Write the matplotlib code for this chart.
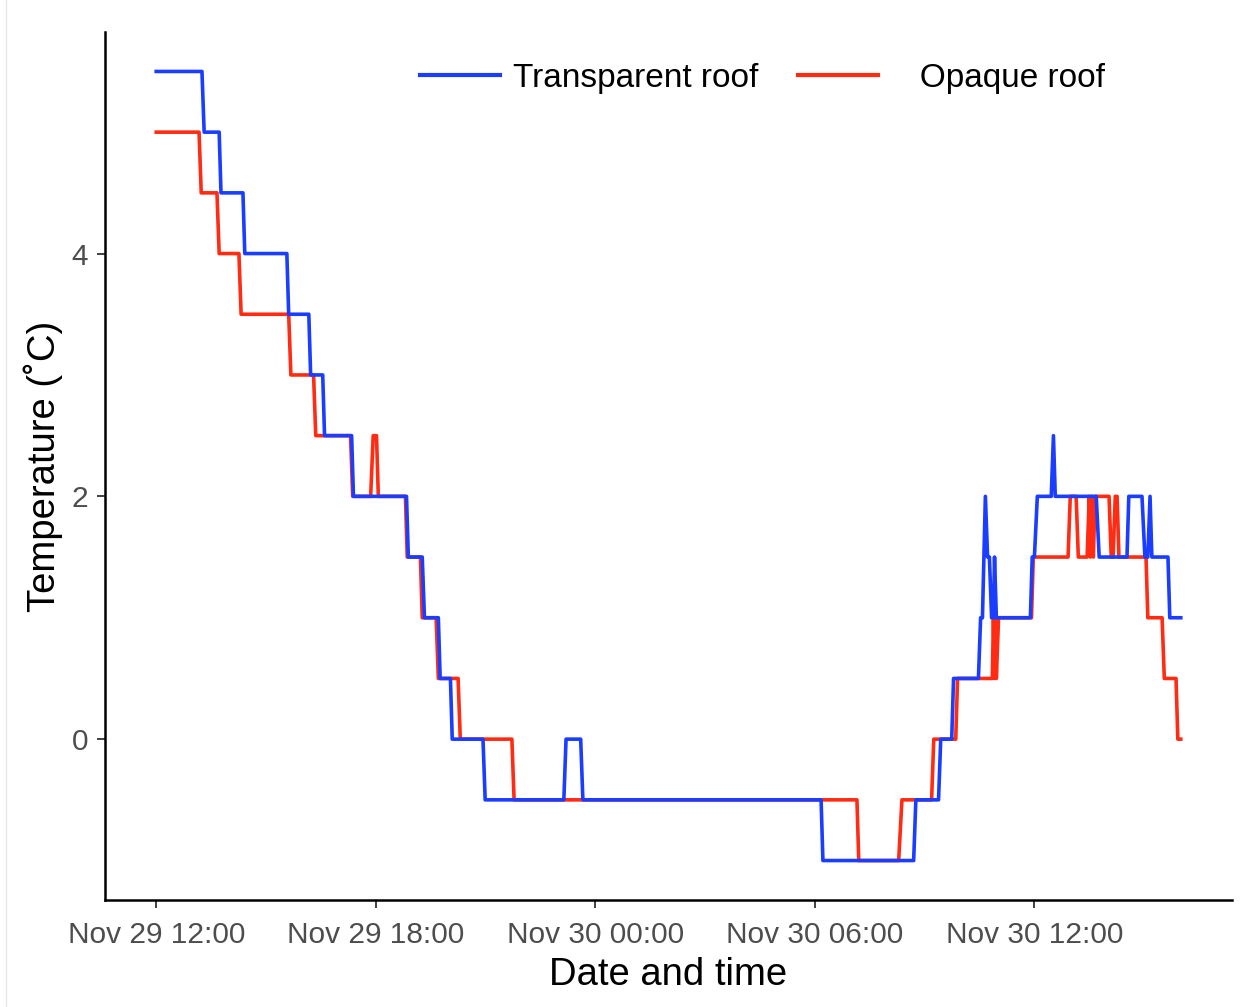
import matplotlib
matplotlib.use("Agg")
import matplotlib.pyplot as plt
import matplotlib.dates as mdates
import pandas as pd
from matplotlib.lines import Line2D

plt.rcParams['font.family'] = ['Liberation Sans', 'DejaVu Sans']

# hours after Nov 29 12:00
start = pd.Timestamp('2023-11-29 12:00')

transparent_h = [0.00, 1.25, 1.31, 1.72, 1.77, 2.37, 2.42, 3.57, 3.62, 4.17,
                 4.22, 4.55, 4.60, 5.34, 5.39, 6.84, 6.89, 7.27, 7.33, 7.71,
                 7.76, 8.04, 8.09, 8.93, 8.99, 11.14, 11.20, 11.60, 11.66, 18.17,
                 18.22, 20.70, 20.76, 21.38, 21.44, 21.74, 21.79, 22.47, 22.53, 22.58,
                 22.66, 22.72, 22.77, 22.83, 22.88, 22.91, 22.96, 23.89, 23.94, 24.00,
                 24.08, 24.46, 24.52, 24.57, 25.69, 25.77, 26.53, 26.58, 26.94, 27.02,
                 27.10, 27.16, 27.21, 27.65, 27.70, 28.00]
transparent_t = [5.5, 5.5, 5.0, 5.0, 4.5, 4.5, 4.0, 4.0, 3.5, 3.5,
                 3.0, 3.0, 2.5, 2.5, 2.0, 2.0, 1.5, 1.5, 1.0, 1.0,
                 0.5, 0.5, 0.0, 0.0, -0.5, -0.5, 0.0, 0.0, -0.5, -0.5,
                 -1.0, -1.0, -0.5, -0.5, 0.0, 0.0, 0.5, 0.5, 1.0, 1.0,
                 2.0, 1.5, 1.5, 1.0, 1.0, 1.5, 1.0, 1.0, 1.5, 1.5,
                 2.0, 2.0, 2.5, 2.0, 2.0, 1.5, 1.5, 2.0, 2.0, 1.5,
                 1.5, 2.0, 1.5, 1.5, 1.0, 1.0]

opaque_h = [0.00, 1.17, 1.23, 1.66, 1.72, 2.26, 2.32, 3.62, 3.68, 4.30,
            4.36, 5.31, 5.37, 5.86, 5.93, 6.02, 6.07, 6.81, 6.86, 7.22,
            7.27, 7.65, 7.71, 8.25, 8.31, 9.72, 9.78, 19.15, 19.20, 20.29,
            20.38, 21.19, 21.25, 21.85, 21.90, 22.85, 22.88, 22.91, 22.94, 22.96,
            23.02, 23.92, 23.97, 24.92, 24.98, 25.14, 25.20, 25.44, 25.50, 25.53,
            25.57, 25.61, 25.66, 26.04, 26.10, 26.15, 26.21, 26.26, 26.31, 27.05,
            27.10, 27.49, 27.55, 27.87, 27.92, 28.00]
opaque_t = [5.0, 5.0, 4.5, 4.5, 4.0, 4.0, 3.5, 3.5, 3.0, 3.0,
            2.5, 2.5, 2.0, 2.0, 2.5, 2.5, 2.0, 2.0, 1.5, 1.5,
            1.0, 1.0, 0.5, 0.5, 0.0, 0.0, -0.5, -0.5, -1.0, -1.0,
            -0.5, -0.5, 0.0, 0.0, 0.5, 0.5, 1.0, 0.5, 1.0, 0.5,
            1.0, 1.0, 1.5, 1.5, 2.0, 2.0, 1.5, 1.5, 2.0, 1.5,
            2.0, 1.5, 2.0, 2.0, 1.5, 1.5, 2.0, 2.0, 1.5, 1.5,
            1.0, 1.0, 0.5, 0.5, 0.0, 0.0]

blue = '#1A3DFF'
red = '#FF2B13'

t_tr = start + pd.to_timedelta(transparent_h, unit='h')
t_op = start + pd.to_timedelta(opaque_h, unit='h')

fig = plt.figure(figsize=(12.52, 10.07), dpi=100, facecolor='white')
ax = fig.add_axes([105 / 1252, 1 - 900 / 1007, 1127 / 1252, 868 / 1007])

ax.plot(t_op, opaque_t, color=red, lw=2.6, zorder=2)
ax.plot(t_tr, transparent_t, color=blue, lw=2.6, zorder=3)

ax.set_xlim(start - pd.Timedelta(hours=1.4), start + pd.Timedelta(hours=29.4))
ax.set_ylim(-1.325, 5.825)

ax.xaxis.set_major_locator(mdates.HourLocator(byhour=[0, 6, 12, 18]))
ax.xaxis.set_major_formatter(mdates.DateFormatter('%b %d %H:%M'))
ax.set_yticks([0, 2, 4])

for s in ['top', 'right']:
    ax.spines[s].set_visible(False)
for s in ['left', 'bottom']:
    ax.spines[s].set_linewidth(1.8)
    ax.spines[s].set_color('black')

ax.tick_params(axis='both', length=6, width=1.3, color='#333333',
               labelcolor='#4D4D4D', labelsize=21.5)
ax.tick_params(axis='x', pad=9)
ax.tick_params(axis='y', pad=6)

ax.set_xlabel('Date and time', fontsize=27.5, color='black', labelpad=6)
ax.set_ylabel('Temperature (˚C)', fontsize=27.5, color='black', labelpad=6)

handles = [Line2D([], [], color=blue, lw=3),
           Line2D([], [], color=red, lw=3)]
ax.legend(handles, ['Transparent roof', '   Opaque roof'], loc='center',
          bbox_to_anchor=(0.583, 0.947), ncol=2, frameon=False,
          fontsize=24, handlelength=2.4, handletextpad=0.4, columnspacing=1.2)

# thin grey edge on the left of the picture
fig.add_artist(Line2D([6 / 1252, 6 / 1252], [0, 1], color='#E6E6E6', lw=1,
                      transform=fig.transFigure))

fig.savefig('out.png', dpi=100, facecolor='white')
